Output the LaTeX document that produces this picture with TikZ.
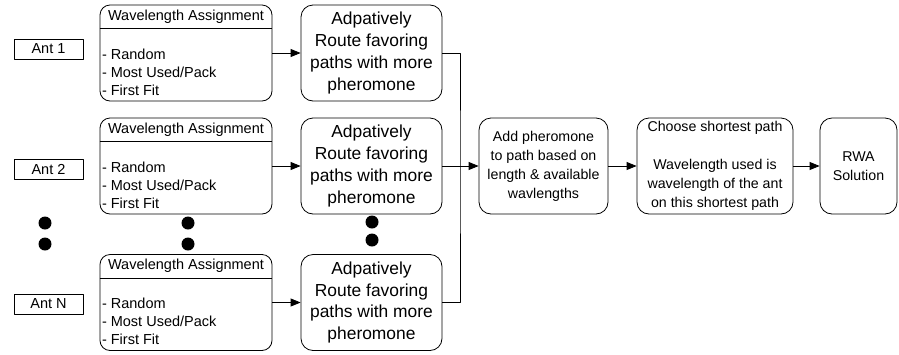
\documentclass[tikz,border=0pt]{standalone}
\usepackage{fontspec}
\setmainfont{Liberation Sans}
\usetikzlibrary{arrows.meta}

\begin{document}
\begin{tikzpicture}[x=1pt, y=-1pt, line width=0.8pt, line join=round,
    antbox/.style={draw, minimum width=69pt, minimum height=20pt, inner sep=0pt, font=\fontsize{14.5}{17}\selectfont},
    wabox/.style={draw, rounded corners=10pt, minimum width=172pt, minimum height=96pt, inner sep=0pt},
    rtbox/.style={draw, rounded corners=12pt, minimum width=141pt, minimum height=96pt, inner sep=0pt, align=center, font=\fontsize{17.4}{21.7}\selectfont},
    stepbox/.style={draw, rounded corners=12pt, minimum height=96pt, inner sep=0pt, align=center, font=\fontsize{14.2}{19}\selectfont},
    small/.style={font=\fontsize{14.5}{18}\selectfont},
    arr/.style={-{Triangle[length=10pt,width=8pt]}}]

    \useasboundingbox (0,0) rectangle (899,354);

    % one row per ant: ant, wavelength assignment, routing
    \foreach \i/\ant/\ya/\yc in {1/Ant 1/49/53, 2/Ant 2/169/166, N/Ant N/304/302.5} {
        \node[antbox] (ant\i) at (48.5,\ya) {\ant};

        \node[wabox] (wa\i) at (186,\yc) {};
        \draw ([yshift=-24pt]wa\i.north west) -- ([yshift=-24pt]wa\i.north east); % title bar
        \node[small] at ([yshift=-12pt]wa\i.north) {Wavelength Assignment};
        \node[small, anchor=west, align=left, inner sep=0pt] at ([xshift=2pt,yshift=-19pt]wa\i.west)
            {- Random\\- Most Used/Pack\\- First Fit};

        \node[rtbox] (rt\i) at (371.5,\yc) {Adpatively\\Route favoring\\paths with more\\pheromone};
        \draw[arr] (wa\i) -- (rt\i);
    }

    % dots between ant 2 and ant N
    \foreach \x/\y in {45/223, 45/244, 188/223, 188/244, 372/222, 372/240} {
        \fill (\x,\y) circle (6.5pt);
    }

    % pheromone update and solution
    \node[stepbox, minimum width=129pt] (add) at (543.5,166) {Add pheromone\\to path based on\\length \& available\\wavlengths};
    \node[stepbox, minimum width=156pt] (pick) at (715,166)
        {Choose shortest path\\[19pt]Wavelength used is\\wavelength of the ant\\on this shortest path};
    \node[stepbox, minimum width=77pt] (rwa) at (858.5,166) {RWA\\Solution};

    % collect the routed ants
    \coordinate (jn) at (460,166);
    \draw (rt1.east) -| (jn) |- (rtN.east);
    \draw[arr] (rt2) -- (add);
    \draw[arr] (add) -- (pick);
    \draw[arr] (pick) -- (rwa);

\end{tikzpicture}
\end{document}
